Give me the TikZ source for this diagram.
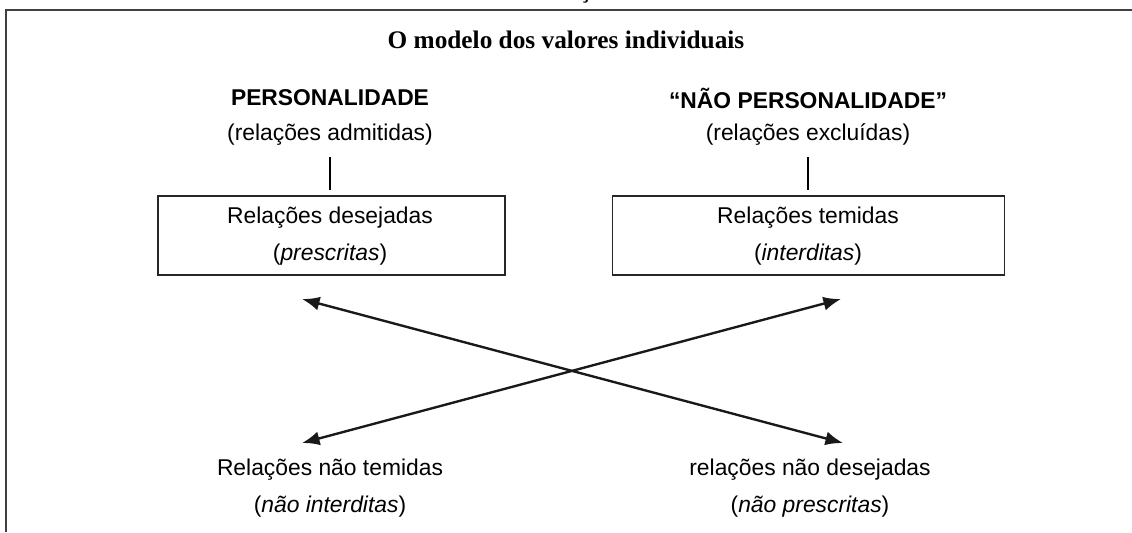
\documentclass[tikz,border=0pt]{standalone}
\usepackage{fontspec}
\setmainfont{Liberation Serif}
\setsansfont{Liberation Sans}
\usetikzlibrary{arrows.meta}
\begin{document}
\begin{tikzpicture}[x=0.02cm,y=-0.02cm,
  txt/.style={font=\sffamily\fontsize{13}{15}\selectfont, inner sep=0pt, anchor=center},
  head/.style={font=\sffamily\bfseries\fontsize{13}{15}\selectfont, inner sep=0pt},
  box/.style={draw=black!85, line width=1pt, minimum width=347*0.02cm, minimum height=79*0.02cm, inner sep=0pt},
  frame/.style={draw=black!75, line width=1pt},
  conn/.style={line width=1pt},
  dbl/.style={draw=black!90, line width=1.35pt, {Latex[length=10pt,width=8pt]}-{Latex[length=10pt,width=8pt]}}]
\useasboundingbox (0,0) rectangle (1132,532);
\node[font=\rmfamily\bfseries\fontsize{13}{15}\selectfont, inner sep=0pt] (cut) at (585,-7) {Ç};
\coordinate (fl) at (6,532);
\coordinate (ftl) at (6,10);
\coordinate (ftr) at (1132,10);
\draw[frame] (fl) -- (ftl) -- (ftr);
\node[font=\rmfamily\bfseries\fontsize{14.4}{16}\selectfont, inner sep=0pt] (title) at (566,40) {O modelo dos valores individuais};
% left column
\node[head] (pers) at (330,98) {PERSONALIDADE};
\node[txt] (adm) at (330,135) {(relações admitidas)};
\coordinate (l1) at (330,157);
\node[box] (bl) at (331.5,235.5) {};
\draw[conn] (l1) -- (330,190);
\node[txt] (bl1) at (330,218) {Relações desejadas};
\node[txt] (bl2) at (330,255) {(\textit{prescritas})};
% right column
\node[head] (npers) at (808,98) {“NÃO PERSONALIDADE”};
\node[txt] (exc) at (808,135) {(relações excluídas)};
\coordinate (r1) at (808,157);
\node[box, minimum width=392*0.02cm] (br) at (808.5,235.5) {};
\draw[conn] (r1) -- (808,190);
\node[txt] (br1) at (808,218) {Relações temidas};
\node[txt] (br2) at (808,255) {(\textit{interditas})};
% arrows
\coordinate (a1) at (302,299);
\coordinate (a2) at (843,443);
\coordinate (b1) at (841,299);
\coordinate (b2) at (302,443);
\draw[dbl] (a1) -- (a2);
\draw[dbl] (b1) -- (b2);
% bottom
\node[txt] (nt1) at (330,470) {Relações não temidas};
\node[txt] (nt2) at (330,507) {(\textit{não interditas})};
\node[txt] (nd1) at (810,470) {relações não desejadas};
\node[txt] (nd2) at (810,507) {(\textit{não prescritas})};
\end{tikzpicture}
\end{document}
